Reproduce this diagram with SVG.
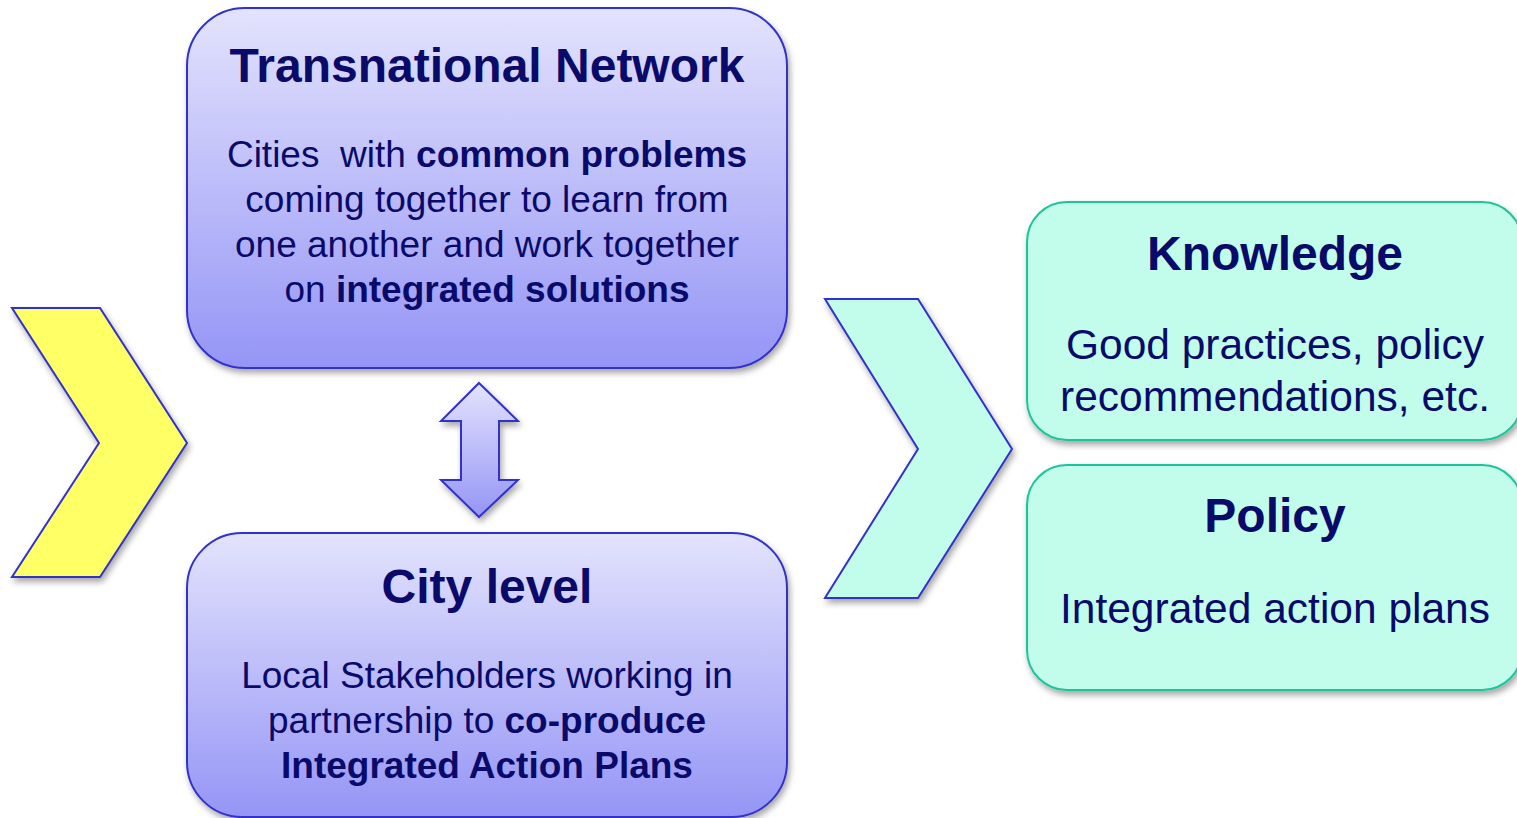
<svg xmlns="http://www.w3.org/2000/svg" width="1517" height="818" viewBox="0 0 1517 818">
<style>
text{font-family:"Liberation Sans",Arial,sans-serif;fill:#0a0a6a;text-anchor:middle}
.t{font-size:48px;font-weight:bold}
.b{font-size:37px}
.r{font-size:42.5px}
.bd{font-weight:bold}
.pbox{fill:url(#pg);stroke:#3333c8;stroke-width:2}
.gbox{fill:#c2fdec;stroke:#1fc49a;stroke-width:2}
.chev{stroke:#3333c8;stroke-width:2;stroke-linejoin:miter}
</style>
<defs>
<linearGradient id="pg" x1="0" y1="0" x2="0" y2="1">
<stop offset="0" stop-color="#e3e3fd"/>
<stop offset="1" stop-color="#9595f6"/>
</linearGradient>
<filter id="sh" x="-10%" y="-10%" width="120%" height="125%">
<feDropShadow dx="2" dy="4" stdDeviation="3" flood-color="#000" flood-opacity="0.35"/>
</filter>
</defs>
<g id="chevron-left" filter="url(#sh)">
<polygon class="chev" fill="#ffff66" points="12,308 100,308 187,443 100,577 12,577 99,443"/>
</g>
<g id="transnational-network">
<rect class="pbox" filter="url(#sh)" x="187" y="8" width="600" height="360" rx="58"/>
<text class="t" x="487" y="82">Transnational Network</text>
<text class="b" x="487" y="167">Cities &#160;with <tspan class="bd">common problems</tspan></text>
<text class="b" x="487" y="212">coming together to learn from</text>
<text class="b" x="487" y="257">one another and work together</text>
<text class="b" x="487" y="302">on <tspan class="bd">integrated solutions</tspan></text>
</g>
<g id="connectors">
<polygon filter="url(#sh)" fill="url(#pg)" stroke="#3333c8" stroke-width="2" points="479,383 518,421 499,421 499,480 518,480 479,517 441,480 461,480 461,421 441,421"/>
</g>
<g id="city-level">
<rect class="pbox" filter="url(#sh)" x="187" y="533" width="600" height="284" rx="55"/>
<text class="t" x="487" y="603">City level</text>
<text class="b" x="487" y="688">Local Stakeholders working in</text>
<text class="b" x="487" y="733">partnership to <tspan class="bd">co-produce</tspan></text>
<text class="b bd" x="487" y="778">Integrated Action Plans</text>
</g>
<g id="chevron-right" filter="url(#sh)">
<polygon class="chev" fill="#c2fdec" points="825,299 918,299 1012,449 918,598 825,598 918,449"/>
</g>
<g id="knowledge">
<rect class="gbox" filter="url(#sh)" x="1027" y="202" width="495" height="238" rx="40"/>
<text class="t" x="1275" y="270">Knowledge</text>
<text class="r" x="1275" y="359">Good practices, policy</text>
<text class="r" x="1275" y="411">recommendations, etc.</text>
</g>
<g id="policy">
<rect class="gbox" filter="url(#sh)" x="1027" y="465" width="495" height="225" rx="40"/>
<text class="t" x="1275" y="532">Policy</text>
<text class="r" x="1275" y="623">Integrated action plans</text>
</g>
</svg>
